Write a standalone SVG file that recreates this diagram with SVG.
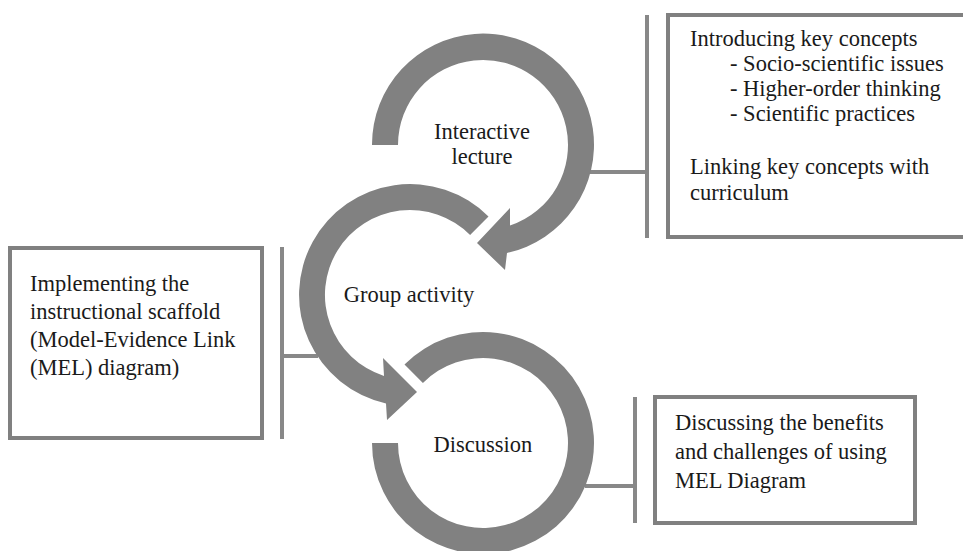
<svg xmlns="http://www.w3.org/2000/svg" width="963" height="551" viewBox="0 0 963 551">
  <style>
    .ring { fill: #818181; }
    .box { fill: #ffffff; stroke: #808080; stroke-width: 4; }
    .conn { fill: none; stroke: #888888; stroke-width: 4; stroke-linecap: butt; }
    .t { font-family: "Liberation Serif", "Times New Roman", serif; font-size: 22.5px; fill: #1a1a1a; }
    .c { text-anchor: middle; }
  </style>
  <rect width="963" height="551" fill="#ffffff"/>

  <g id="connectors">
    <path class="conn" d="M 647 15 L 647 238 M 590 172 L 647 172"/>
    <path class="conn" d="M 282 247 L 282 439 M 282 356 L 318 356"/>
    <path class="conn" d="M 635 397 L 635 523 M 585 486 L 635 486"/>
  </g>

  <g id="interactive-lecture">
    <path class="ring" d="M 372 145 A 111 111 0 1 1 507 253 L 505 270 L 477 243 L 510 208 L 510 225.6 A 85 85 0 1 0 398 145 Z"/>
    <text class="t c" x="482" y="139">Interactive</text>
    <text class="t c" x="482" y="164">lecture</text>
  </g>

  <g id="group-activity">
    <path class="ring" d="M 488.5 216.5 A 111 111 0 1 0 386 403.4 L 387 420 L 417 392 L 383 358 L 384 375.9 A 85 85 0 1 1 470.1 234.9 Z"/>
    <text class="t c" x="409" y="302">Group activity</text>
  </g>

  <g id="discussion">
    <path class="ring" d="M 404.5 364.5 A 111 111 0 1 1 372 443 L 398 443 A 85 85 0 1 0 422.9 382.9 Z"/>
    <text class="t c" x="483" y="452">Discussion</text>
  </g>

  <g id="box-lecture">
    <rect class="box" x="668" y="15" width="310" height="222"/>
    <text class="t" x="690" y="46">Introducing key concepts</text>
    <text class="t" x="730" y="71">- Socio-scientific issues</text>
    <text class="t" x="730" y="96">- Higher-order thinking</text>
    <text class="t" x="730" y="121">- Scientific practices</text>
    <text class="t" x="690" y="174">Linking key concepts with</text>
    <text class="t" x="690" y="200">curriculum</text>
  </g>

  <g id="box-group">
    <rect class="box" x="10" y="248" width="252" height="190"/>
    <text class="t" x="30" y="291">Implementing the</text>
    <text class="t" x="30" y="319">instructional scaffold</text>
    <text class="t" x="30" y="347">(Model-Evidence Link</text>
    <text class="t" x="30" y="375">(MEL) diagram)</text>
  </g>

  <g id="box-discussion">
    <rect class="box" x="655" y="397" width="260" height="126"/>
    <text class="t" x="675" y="430">Discussing the benefits</text>
    <text class="t" x="675" y="459">and challenges of using</text>
    <text class="t" x="675" y="488">MEL Diagram</text>
  </g>
</svg>
